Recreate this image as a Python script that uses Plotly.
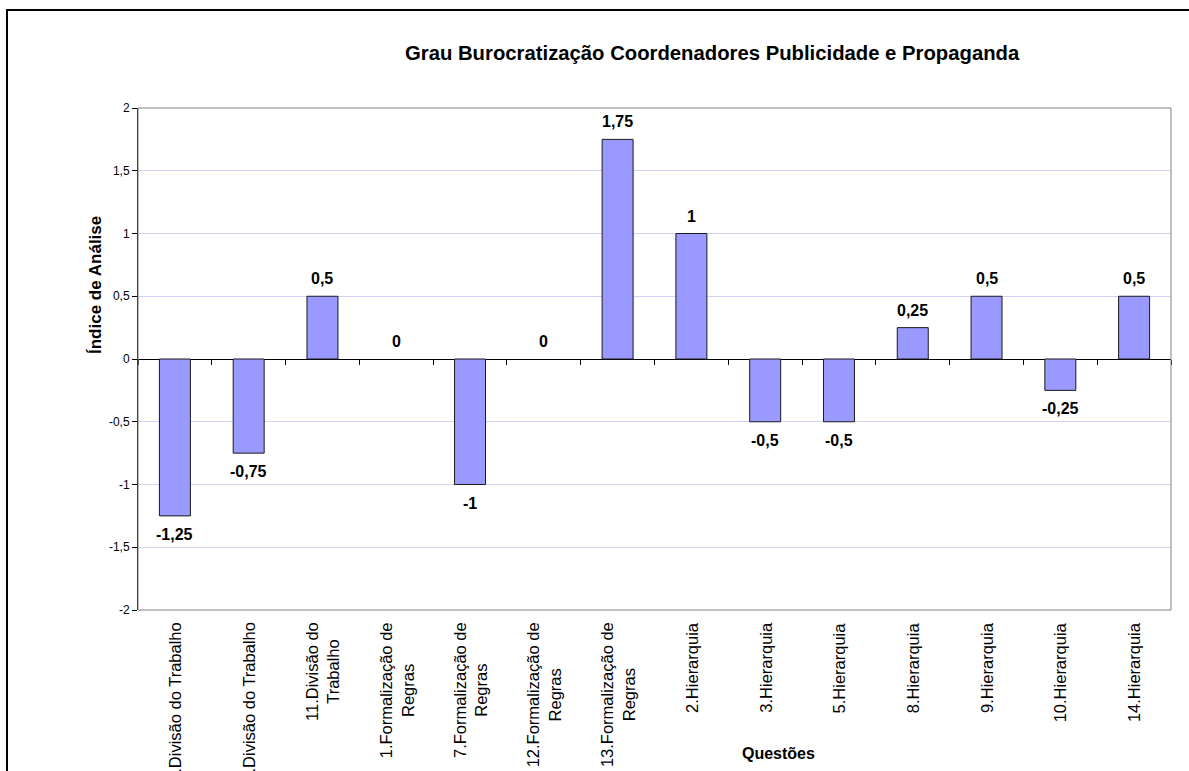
import plotly.graph_objects as go

# Questions (categories), their index values, and the axis labels
questoes = [
    "4.Divisão do Trabalho", "6.Divisão do Trabalho", "11.Divisão do Trabalho",
    "1.Formalização de Regras", "7.Formalização de Regras", "12.Formalização de Regras",
    "13.Formalização de Regras", "2.Hierarquia", "3.Hierarquia", "5.Hierarquia",
    "8.Hierarquia", "9.Hierarquia", "10.Hierarquia", "14.Hierarquia",
]
indices = [-1.25, -0.75, 0.5, 0, -1, 0, 1.75, 1, -0.5, -0.5, 0.25, 0.5, -0.25, 0.5]
rotulos_x = [
    "4.Divisão do Trabalho", "6.Divisão do Trabalho", "11.Divisão do<br>Trabalho",
    "1.Formalização de<br>Regras", "7.Formalização de<br>Regras", "12.Formalização de<br>Regras",
    "13.Formalização de<br>Regras", "2.Hierarquia", "3.Hierarquia", "5.Hierarquia",
    "8.Hierarquia", "9.Hierarquia", "10.Hierarquia", "14.Hierarquia",
]
ticks_y = [-2, -1.5, -1, -0.5, 0, 0.5, 1, 1.5, 2]
rotulos_y = ["-2", "-1,5", "-1", "-0,5", "0", "0,5", "1", "1,5", "2"]

W, H = 1189, 771
ML, MR, MT, MB = 138, 18, 108, 161
PW, PH = W - ML - MR, H - MT - MB
FONT = "Arial, Liberation Sans, sans-serif"


def px_x(px):
    return (px - ML) / PW


def px_y(py):
    return (H - MB - py) / PH


def fmt(v):
    return f"{v:g}".replace(".", ",")


fig = go.Figure()
fig.add_trace(go.Bar(
    x=questoes, y=indices,
    marker=dict(color="#9999FF",
                line=dict(color="#1a1a1a", width=[0 if v == 0 else 1 for v in indices])),
    width=0.42, hoverinfo="x+y",
))
# invisible companion trace carrying the category tick marks on the zero line
fig.add_trace(go.Scatter(
    x=questoes, y=indices, xaxis="x2", mode="markers",
    marker=dict(opacity=0), hoverinfo="skip", showlegend=False,
))

# value labels above / below each bar
for q, v in zip(questoes, indices):
    fig.add_annotation(
        x=q, y=v, text=f"<b>{fmt(v)}</b>", showarrow=False,
        yanchor="bottom" if v >= 0 else "top",
        yshift=7 if v >= 0 else -8,
        font=dict(family=FONT, size=16, color="#000"),
    )

# rotated category labels below the plot, lines centred on each other
for q, lab in zip(questoes, rotulos_x):
    fig.add_annotation(
        x=q, yref="paper", y=px_y(620), text=lab, textangle=-90,
        showarrow=False, xanchor="center", yanchor="top", align="center",
        font=dict(family=FONT, size=16.5, color="#000"),
    )

# chart title and axis titles
fig.add_annotation(
    xref="paper", yref="paper", x=px_x(712), y=px_y(53),
    text="<b>Grau Burocratização Coordenadores Publicidade e Propaganda</b>",
    showarrow=False, xanchor="center", yanchor="middle",
    font=dict(family=FONT, size=20.3, color="#000"),
)
fig.add_annotation(
    xref="paper", yref="paper", x=px_x(95), y=px_y(285),
    text="<b>Índice de Análise</b>", textangle=-90,
    showarrow=False, xanchor="center", yanchor="middle",
    font=dict(family=FONT, size=17, color="#000"),
)
fig.add_annotation(
    xref="paper", yref="paper", x=px_x(778), y=px_y(753),
    text="<b>Questões</b>",
    showarrow=False, xanchor="center", yanchor="middle",
    font=dict(family=FONT, size=16, color="#000"),
)

# plot-area frame and outer chart border
fig.add_shape(type="rect", xref="paper", yref="paper", x0=0, x1=1, y0=0, y1=1,
              line=dict(color="#808080", width=1), layer="above")
fig.add_shape(type="rect", xref="paper", yref="paper",
              x0=px_x(7), x1=px_x(1200), y0=px_y(785), y1=px_y(10),
              line=dict(color="#000", width=2), layer="above")

fig.update_layout(
    width=W, height=H,
    margin=dict(l=ML, r=MR, t=MT, b=MB, autoexpand=False),
    paper_bgcolor="white", plot_bgcolor="white",
    showlegend=False,
    font=dict(family=FONT, color="#000"),
    xaxis=dict(
        type="category", categoryorder="array", categoryarray=questoes,
        range=[-0.5, len(questoes) - 0.5],
        showticklabels=False, ticks="",
        showgrid=False, showline=False, zeroline=False, automargin=False,
    ),
    xaxis2=dict(
        type="category", overlaying="x", matches="x", anchor="free",
        position=px_y(359), side="bottom",
        categoryorder="array", categoryarray=questoes,
        tickson="boundaries", ticks="outside", ticklen=5, tickcolor="#000",
        showticklabels=False, showgrid=False, showline=False, zeroline=False,
    ),
    yaxis=dict(
        range=[-2, 2], tickvals=ticks_y, ticktext=rotulos_y,
        tickfont=dict(family=FONT, size=12, color="#000"),
        ticks="outside", ticklen=5, tickcolor="#000",
        showline=True, linecolor="#000", linewidth=1,
        showgrid=True, gridcolor="#d2d2f6", gridwidth=1,
        zeroline=True, zerolinecolor="#000", zerolinewidth=1,
        automargin=False,
    ),
)

fig.write_html("out.html")
